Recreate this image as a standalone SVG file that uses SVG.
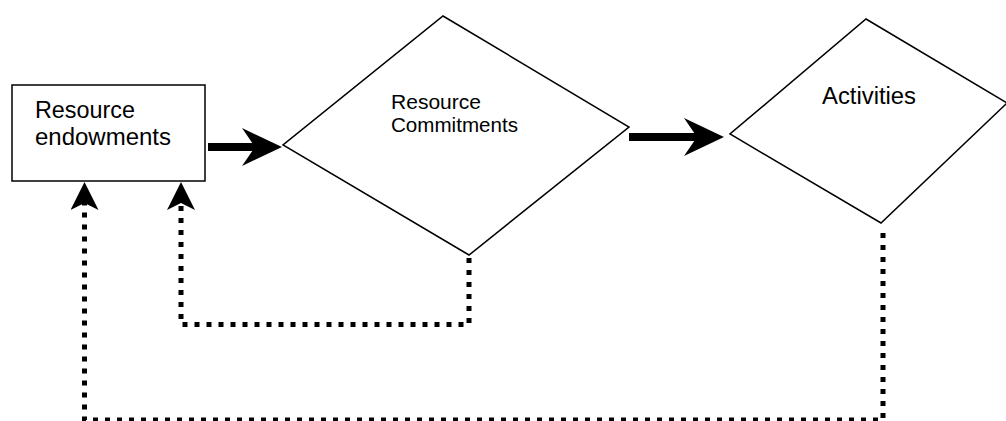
<svg xmlns="http://www.w3.org/2000/svg" width="1006" height="421" viewBox="0 0 1006 421">
  <style>
    .shape { fill: #ffffff; stroke: #000000; stroke-width: 1.5; }
    .label { font-family: "Liberation Sans", Arial, sans-serif; fill: #000000; }
    .solid { fill: none; stroke: #000000; stroke-width: 8; }
    .dotted { fill: none; stroke: #000000; stroke-width: 5; stroke-dasharray: 5 7; }
  </style>
  <defs>
    <marker id="solidHead" markerUnits="userSpaceOnUse" viewBox="0 0 40 38" markerWidth="40" markerHeight="38" refX="13" refY="19" orient="auto">
      <path d="M0,0 L40,19 L0,38 L13,19 Z" fill="#000000"/>
    </marker>
    <marker id="dotHead" markerUnits="userSpaceOnUse" viewBox="0 0 28 28" markerWidth="28" markerHeight="28" refX="7" refY="14" orient="auto">
      <path d="M0,0 L28,14 L0,28 L7,14 Z" fill="#000000"/>
    </marker>
  </defs>
  <rect width="1006" height="421" fill="#ffffff"/>

  <g id="connectors">
    <path class="solid" d="M208,147 H255" marker-end="url(#solidHead)"/>
    <path class="solid" d="M629,137 H697" marker-end="url(#solidHead)"/>
    <path class="dotted" d="M469,258 V324.5 H181 V203" marker-end="url(#dotHead)"/>
    <path class="dotted" d="M883,233 V420 H84.5 V203" marker-end="url(#dotHead)"/>
  </g>

  <g id="resource-endowments">
    <rect class="shape" x="12" y="85" width="193" height="96"/>
    <text class="label" font-size="23" x="35" y="118" textLength="100" lengthAdjust="spacingAndGlyphs">Resource</text>
    <text class="label" font-size="23" x="35" y="145" textLength="136" lengthAdjust="spacingAndGlyphs">endowments</text>
  </g>

  <g id="resource-commitments">
    <polygon class="shape" points="443,16 629,127 469,255 283,145"/>
    <text class="label" font-size="21" x="391" y="108.5" textLength="90" lengthAdjust="spacingAndGlyphs">Resource</text>
    <text class="label" font-size="21" x="391" y="132" textLength="127" lengthAdjust="spacingAndGlyphs">Commitments</text>
  </g>

  <g id="activities">
    <polygon class="shape" points="866,19 1007,103 881,223 730,134"/>
    <text class="label" font-size="23.5" x="822" y="104" textLength="94" lengthAdjust="spacingAndGlyphs">Activities</text>
  </g>
</svg>
